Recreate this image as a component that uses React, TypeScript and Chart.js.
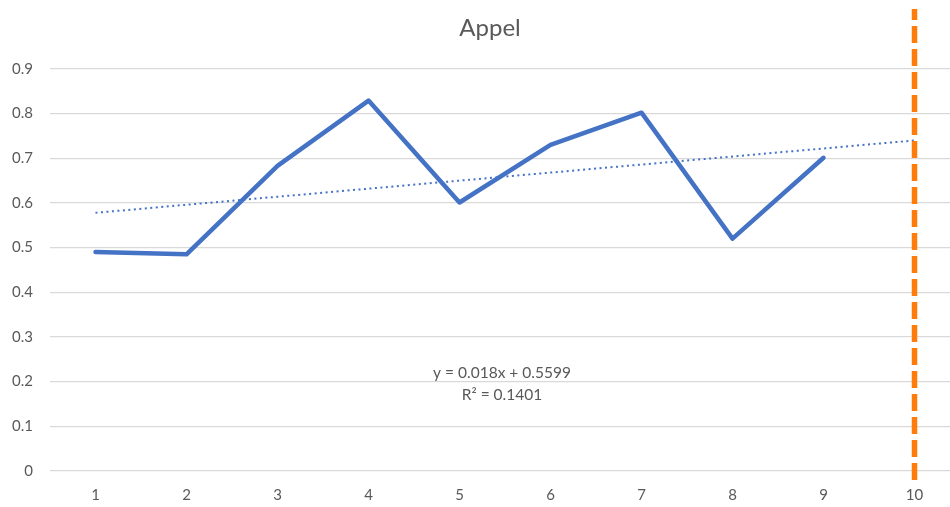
import React, { useEffect, useRef } from "react";
import { Chart, registerables } from "chart.js";

Chart.register(...registerables);

const categories = [1, 2, 3, 4, 5, 6, 7, 8, 9, 10];
const appelValues = [0.49, 0.485, 0.683, 0.829, 0.601, 0.73, 0.802, 0.52, 0.701];
const trendSlope = 0.018;
const trendIntercept = 0.5599;
const yTicks = [0, 0.1, 0.2, 0.3, 0.4, 0.5, 0.6, 0.7, 0.8, 0.9];
const markerX = 10;
const markerRange = [-0.02, 1.034];
const titleText = "Appel";
const equationText = "y = 0.018x + 0.5599";
const r2Text = "R² = 0.1401";

const FONT = "Lato, 'Open Sans', sans-serif";
const GRAY = "#595959";

export default function App() {
  const ref = useRef<HTMLCanvasElement>(null);
  useEffect(() => {
    document.body.style.margin = "0";
    const ctx = ref.current!.getContext("2d")!;
    const trendX = [categories[0], categories[categories.length - 1]];
    const textPlugin = {
      id: "texts",
      afterDraw(chart: any) {
        const c = chart.ctx;
        c.save();
        c.fillStyle = GRAY;
        c.textAlign = "center";
        c.textBaseline = "middle";
        c.font = `24px ${FONT}`;
        c.fillText(titleText, 490, 28);
        c.font = `15.5px ${FONT}`;
        c.fillText(equationText, 502, 373);
        c.fillText(r2Text, 502, 395);
        c.restore();
      },
    };
    const chart = new Chart(ctx, {
      type: "line",
      data: {
        datasets: [
          {
            label: "Appel",
            data: appelValues.map((v, i) => ({ x: categories[i], y: v })),
            borderColor: "#4472C4",
            borderWidth: 4.5,
            pointRadius: 0,
            borderCapStyle: "round",
            borderJoinStyle: "round",
            order: 1,
          },
          {
            label: "trend",
            data: trendX.map((x) => ({ x, y: trendIntercept + trendSlope * x })),
            borderColor: "#4472C4",
            borderWidth: 2,
            borderDash: [2, 3.5],
            pointRadius: 0,
            order: 2,
          },
          {
            label: "marker",
            data: markerRange.map((y) => ({ x: markerX, y })),
            borderColor: "#FF7C0A",
            borderWidth: 5.5,
            borderDash: [17, 6],
            pointRadius: 0,
            clip: false as any,
            order: 0,
          },
        ],
      },
      options: {
        animation: false,
        responsive: false,
        layout: { padding: { top: 8, left: 0, right: 0, bottom: 0 } },
        plugins: { legend: { display: false }, title: { display: false }, tooltip: { enabled: false } },
        scales: {
          x: {
            type: "linear",
            min: 0.5,
            max: 10.39,
            afterBuildTicks: (s: any) => {
              s.ticks = categories.map((v) => ({ value: v }));
            },
            afterFit: (s: any) => {
              s.height = 36;
            },
            grid: { display: false, drawTicks: false },
            border: { display: false },
            ticks: { color: GRAY, font: { family: FONT, size: 15 }, padding: 15, maxRotation: 0, autoSkip: false },
          },
          y: {
            min: 0,
            max: 0.996,
            afterBuildTicks: (s: any) => {
              s.ticks = yTicks.map((v) => ({ value: v }));
            },
            afterFit: (s: any) => {
              s.width = 50;
            },
            grid: { color: "#D9D9D9", lineWidth: 1.3, drawTicks: false },
            border: { display: false },
            ticks: { color: GRAY, font: { family: FONT, size: 15 }, padding: 17, callback: (v: any) => String(v) },
          },
        },
      },
      plugins: [textPlugin],
    } as any);
    return () => chart.destroy();
  }, []);
  return (
    <div style={{ position: "fixed", left: 0, top: 0, width: 950, height: 507, background: "#fff" }}>
      <canvas ref={ref} width={950} height={507} />
    </div>
  );
}
